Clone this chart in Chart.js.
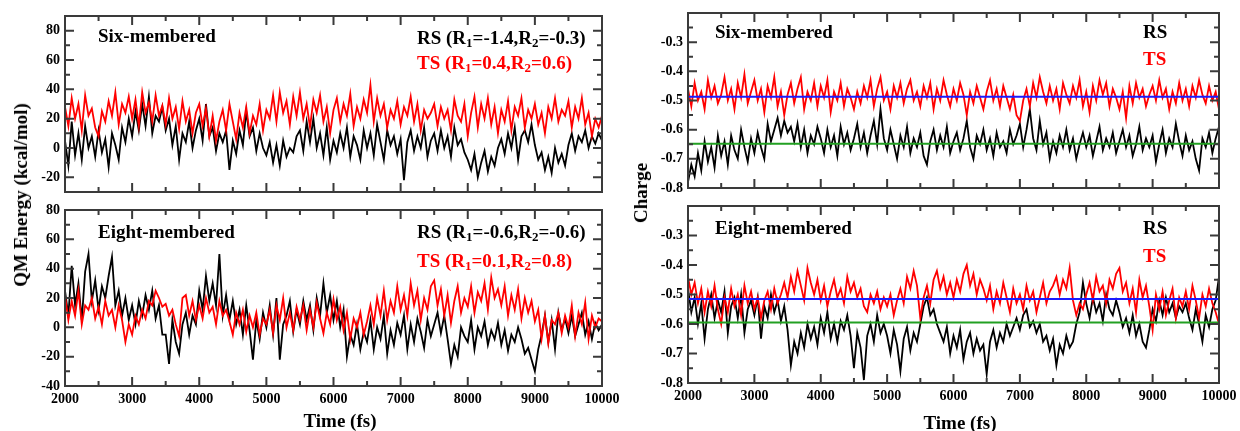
<!DOCTYPE html>
<html>
<head>
<meta charset="utf-8">
<script src="https://cdn.jsdelivr.net/npm/chart.js@4"></script>
<style>
  body { margin: 0; background: #fff; width: 1240px; height: 431px; overflow: hidden; position: relative; }
  canvas { position: absolute; }
  .title { position: absolute; font: bold 19px "Liberation Serif", serif; color: #000; white-space: nowrap; transform: translate(-50%, -50%); }
  .vert { transform: translate(-50%, -50%) rotate(-90deg); }
</style>
</head>
<body>
<canvas id="energySix" style="left:0;top:0"></canvas>
<canvas id="energyEight" style="left:0;top:200px"></canvas>
<canvas id="chargeSix" style="left:620px;top:0"></canvas>
<canvas id="chargeEight" style="left:620px;top:200px"></canvas>
<div class="title vert" style="left:21px;top:195px">QM Energy (kcal/mol)</div>
<div class="title vert" style="left:641px;top:193px">Charge</div>
<div class="title" style="left:340px;top:421px">Time (fs)</div>
<div class="title" style="left:960px;top:423px">Time (fs)</div>
<script>
// sampling of the trajectories (fs)
const timeStart = 2000, timeEnd = 10000, timeStep = 50;
const times = [];
for (let t = timeStart; t <= timeEnd; t += timeStep) times.push(t);

const timeTicks = [2000, 3000, 4000, 5000, 6000, 7000, 8000, 9000, 10000];
const energySixTicks = [-20, 0, 20, 40, 60, 80];
const energyEightTicks = [-40, -20, 0, 20, 40, 60, 80];
const chargeTicks = [-0.8, -0.7, -0.6, -0.5, -0.4, -0.3];

// QM energy, six-membered ring
const energySixTS = [
  28, 15, 34, 20, 30, 12, 36, 22, 27, 14,
  8, 25, 18, 32, 22, 38, 16, 30, 24, 35,
  20, 33, 15, 38, 24, 31, 18, 36, 22, 29,
  16, 34, 20, 28, 13, 32, 18, 26, 10, 24,
  30, 15, 27, 8, 22, 5, 18, 26, 12, 30,
  18, 6, 24, 14, 28, 10, 22, 16, 30, 12,
  26, 20, 36, 18, 38, 24, 32, 16, 35, 22,
  38, 20, 30, 14, 33, 24, 36, 18, 28, 10,
  26, 34, 18, 30, 22, 37, 15, 28, 20, 33,
  24, 43, 18, 34, 22, 30, 14, 26, 20, 32,
  16, 28, 22, 35, 18, 30, 12, 26, 20, 24,
  30, 15, 28, 20, 26, 12, 33, 22, 18, 30,
  8, 24, 35, 14, 30, 20, 34, 16, 28, 10,
  26, 18, 32, 12, 28, 22, 34, 14, 26, 20,
  30, 16, 24, 10, 28, 20, 34, 18, 26, 22,
  32, 14, 28, 20, 34, 16, 24, 8, 20, 14,
  22
];
const energySixRS = [
  5, -12, 18, -5, 10, -8, 15, 0, 8, -6,
  12, -3, 6, -13, 10, 2, -8, 14, 4, 20,
  8, 25, 12, 30, 15, 35, 10, 22, 18, 28,
  12, 20, 2, 15, -8, 10, 4, 18, 0, 12,
  20, 5, 30, 8, 14, -2, 10, 4, 12, -15,
  5, -4, 12, 2, 25, 8, 14, -2, 10, 0,
  -5, 4, -10, 2, -12, 5, -6, 0, -3, 8,
  12, -2, 18, 4, 20, 0, 10, -5, 14, -8,
  5, -3, 10, 0, 14, -6, 8, 2, -8, 12,
  0, 10, -5, 16, 4, -8, 12, 2, 8, -4,
  6, -22, 4, 12, -2, 8, 0, 14, -6, 5,
  10, -2, 12, 0, 8, -6, 14, 2, 6, -3,
  -8, -15, -4, -20, -10, -2, -16, -6, -12, 0,
  6, -4, 10, 0, 14, -8, 8, 12, 4, 16,
  2, -8, -3, -15, -6, -17, 0, -10, -4, -12,
  2, 10, -2, 8, 4, 12, 0, 8, 3, 10,
  5
];

// QM energy, eight-membered ring
const energyEightTS = [
  22, 5, 18, 8, 25, 2, 15, 12, 20, 6,
  14, 2, 18, 8, 12, 0, 15, 5, -10, 2,
  -5, 8, 2, 12, 6, 18, 15, 25, 20, 14,
  16, 8, 12, 2, -6, 20, 22, 8, 18, 5,
  15, 6, 20, 10, 14, 2, 18, 8, 12, 4,
  -5, 10, 2, 12, -3, 8, 0, 10, -5, 6,
  2, 12, -4, 15, 5, 20, 0, 10, -2, 14,
  5, 15, -2, 12, 0, 17, 6, -4, 10, 2,
  19, 5, 14, -2, 10, -8, 6, 0, 10, -5,
  4, 15, 2, 20, 8, 25, 5, 18, 10, 28,
  12, 22, 8, 30, 15, 25, 5, 20, 12, 28,
  32, 15, 26, 8, 22, 3, 18, 28, 10, 20,
  14, 28, 10, 24, 18, 30, 12, 34, 20, 26,
  15, 28, 8, 22, 12, 26, 6, 20, 10, 18,
  4, 12, -8, 8, -11, 5, 2, 10, -4, 8,
  0, 15, -6, 10, 2, 17, -8, 8, 0, 6,
  4
];
const energyEightRS = [
  25, 8, 42, 15, 30, 5, 38, 50, 18, 32,
  12, 28, 20, 35, 48, 15, 25, 8, 20, 5,
  15, 2, 18, 8, 22, 12, 25, 6, 15, -5,
  -5, -25, 5, -10, -18, 2, 10, -5, 8, 2,
  25, 12, 35, 18, 30, 15, 50, 8, 22, 5,
  18, 2, 12, -5, 15, -2, -22, 5, -8, 10,
  0, 15, -5, 20, -22, 2, 8, 18, -3, 12,
  2, 18, 5, 15, -2, 20, 8, 30, 10, 22,
  5, 18, 0, 12, -20, -5, -12, 2, -15, -3,
  -10, 5, -15, 0, -8, 8, -18, -2, -12, 3,
  -5, 8, -15, 2, -10, 6, -3, -14, 5, -6,
  2, 10, -4, 8, -8, -25, -12, -20, 0, -6,
  -10, 5, -15, 0, -6, 4, -12, -2, -8, 3,
  -12, -2, -16, -5, -10, 0, -8, -18, -14, -22,
  -30, -15, -5, 8, -10, 5, -15, 10, -2, 6,
  -4, 8, -6, 2, 10, -5, 4, -8, 3, -2,
  2
];

// charge, six-membered ring
const chargeSixTS = [
  -0.46, -0.52, -0.44, -0.50, -0.47, -0.53, -0.43, -0.49, -0.45, -0.51,
  -0.48, -0.42, -0.50, -0.46, -0.53, -0.44, -0.49, -0.41, -0.51, -0.47,
  -0.43, -0.50, -0.46, -0.54, -0.45, -0.49, -0.42, -0.52, -0.47, -0.55,
  -0.48, -0.44, -0.51, -0.46, -0.42, -0.53, -0.47, -0.50, -0.44, -0.52,
  -0.45, -0.49, -0.43, -0.54, -0.47, -0.50, -0.44, -0.52, -0.46, -0.49,
  -0.53, -0.47, -0.51, -0.45, -0.49, -0.43, -0.52, -0.46, -0.42, -0.50,
  -0.47, -0.53, -0.45, -0.49, -0.44, -0.51, -0.46, -0.43, -0.50, -0.47,
  -0.52, -0.45, -0.49, -0.44, -0.53, -0.46, -0.50, -0.43, -0.48, -0.52,
  -0.46, -0.50, -0.44, -0.48, -0.55, -0.47, -0.51, -0.45, -0.49, -0.53,
  -0.47, -0.43, -0.50, -0.46, -0.52, -0.45, -0.49, -0.53, -0.48, -0.55,
  -0.57, -0.50, -0.46, -0.52, -0.44, -0.49, -0.42, -0.47, -0.51, -0.45,
  -0.50, -0.46, -0.53, -0.44, -0.48, -0.51, -0.45, -0.49, -0.43, -0.52,
  -0.47, -0.54, -0.45, -0.50, -0.43, -0.48, -0.44, -0.52, -0.46, -0.49,
  -0.53, -0.47, -0.56, -0.45, -0.51, -0.44, -0.49, -0.46, -0.52, -0.48,
  -0.45, -0.50, -0.43, -0.49, -0.46, -0.53, -0.47, -0.51, -0.44, -0.50,
  -0.46, -0.52, -0.45, -0.49, -0.43, -0.48, -0.51, -0.45, -0.50, -0.47,
  -0.53
];
const chargeSixRS = [
  -0.78, -0.72, -0.76, -0.68, -0.74, -0.64, -0.71, -0.66, -0.73, -0.62,
  -0.69, -0.64, -0.72, -0.62, -0.67, -0.70, -0.60, -0.66, -0.71, -0.63,
  -0.68, -0.61, -0.66, -0.70, -0.58, -0.64, -0.60, -0.56, -0.62, -0.57,
  -0.61, -0.59, -0.64, -0.58, -0.66, -0.60, -0.68, -0.62, -0.65, -0.59,
  -0.63, -0.68, -0.60, -0.66, -0.62, -0.69, -0.59, -0.65, -0.61, -0.67,
  -0.63, -0.58, -0.66, -0.61, -0.68, -0.62, -0.57, -0.65, -0.53, -0.63,
  -0.67, -0.60, -0.65, -0.70, -0.62, -0.66, -0.59, -0.68, -0.63, -0.66,
  -0.61, -0.69, -0.72, -0.64, -0.60, -0.67, -0.62, -0.66, -0.59, -0.68,
  -0.64, -0.61, -0.67, -0.63, -0.57, -0.66, -0.70, -0.62, -0.65, -0.60,
  -0.67, -0.63, -0.69, -0.61, -0.66, -0.64, -0.68, -0.60, -0.65, -0.62,
  -0.58, -0.66, -0.60, -0.53, -0.63, -0.67, -0.57, -0.65, -0.61, -0.70,
  -0.64, -0.68, -0.62, -0.66, -0.60, -0.67, -0.63, -0.70, -0.65, -0.61,
  -0.66, -0.62, -0.69, -0.64, -0.59, -0.67, -0.63, -0.66, -0.61, -0.68,
  -0.64, -0.60, -0.66, -0.62, -0.69, -0.65, -0.59, -0.67, -0.63, -0.66,
  -0.62, -0.71, -0.65, -0.60, -0.68, -0.63, -0.66, -0.58, -0.64, -0.69,
  -0.62, -0.67, -0.64, -0.70, -0.74, -0.63, -0.66, -0.61, -0.68, -0.63,
  -0.59
];
const chargeSixMeanTS = -0.487;
const chargeSixMeanRS = -0.648;

// charge, eight-membered ring
const chargeEightTS = [
  -0.44, -0.50, -0.46, -0.53, -0.48, -0.56, -0.49, -0.54, -0.47, -0.55,
  -0.60, -0.51, -0.56, -0.48, -0.54, -0.50, -0.57, -0.47, -0.53, -0.49,
  -0.55, -0.51, -0.58, -0.52, -0.49, -0.55, -0.48, -0.53, -0.50, -0.46,
  -0.51, -0.44, -0.49, -0.42, -0.47, -0.52, -0.41, -0.46, -0.50, -0.45,
  -0.52, -0.47, -0.54, -0.49, -0.45, -0.51, -0.48, -0.53, -0.44, -0.49,
  -0.46, -0.51, -0.48, -0.54, -0.56, -0.50, -0.53, -0.49, -0.55, -0.51,
  -0.54, -0.50, -0.57, -0.52, -0.48, -0.53, -0.44, -0.48, -0.42, -0.47,
  -0.58, -0.51, -0.47, -0.53, -0.45, -0.42, -0.48, -0.44, -0.50, -0.46,
  -0.51, -0.45, -0.49, -0.43, -0.40, -0.47, -0.43, -0.50, -0.45, -0.48,
  -0.52, -0.47, -0.55, -0.49, -0.53, -0.46, -0.51, -0.56, -0.48, -0.53,
  -0.50, -0.55, -0.47, -0.52, -0.49, -0.56, -0.51, -0.46, -0.53, -0.49,
  -0.47, -0.44, -0.50, -0.45, -0.48, -0.41, -0.52, -0.57, -0.53, -0.55,
  -0.50, -0.46, -0.52, -0.44, -0.49, -0.47, -0.53, -0.45, -0.48, -0.43,
  -0.41, -0.49, -0.46, -0.53, -0.48, -0.56, -0.45, -0.51, -0.47, -0.54,
  -0.62, -0.50, -0.55, -0.49, -0.57, -0.52, -0.48, -0.58, -0.51, -0.54,
  -0.49, -0.55, -0.47, -0.52, -0.58, -0.50, -0.54, -0.48, -0.53, -0.56,
  -0.60
];
const chargeEightRS = [
  -0.48, -0.56, -0.51, -0.60, -0.53, -0.65, -0.55, -0.50, -0.58, -0.52,
  -0.56, -0.49, -0.63, -0.54, -0.51, -0.58, -0.50, -0.63, -0.55, -0.52,
  -0.57, -0.51, -0.65, -0.54, -0.58, -0.50, -0.56, -0.52, -0.59, -0.54,
  -0.62, -0.74, -0.66, -0.70, -0.63, -0.68, -0.60, -0.65, -0.61, -0.67,
  -0.58, -0.63, -0.56, -0.65, -0.60, -0.66, -0.59, -0.62, -0.57, -0.64,
  -0.75, -0.63, -0.68, -0.79, -0.64, -0.60, -0.66, -0.57, -0.63, -0.60,
  -0.64, -0.70, -0.62, -0.67, -0.76, -0.65, -0.61, -0.69, -0.63, -0.66,
  -0.60, -0.54, -0.51, -0.57, -0.55, -0.60, -0.63, -0.66, -0.61, -0.70,
  -0.64, -0.68, -0.62, -0.72, -0.66, -0.63, -0.70, -0.65, -0.69, -0.67,
  -0.77, -0.66, -0.62, -0.68, -0.63, -0.66, -0.60, -0.64, -0.61, -0.58,
  -0.62, -0.57, -0.55, -0.61, -0.59, -0.63, -0.60, -0.66, -0.64, -0.69,
  -0.65, -0.74, -0.67, -0.70, -0.64, -0.68, -0.66, -0.60, -0.56, -0.46,
  -0.53, -0.58, -0.51, -0.56, -0.53, -0.59, -0.50, -0.55, -0.57, -0.52,
  -0.56, -0.61, -0.58, -0.63, -0.57, -0.64, -0.60, -0.66, -0.68, -0.62,
  -0.55, -0.59, -0.52, -0.57, -0.51, -0.56, -0.53, -0.58, -0.54, -0.56,
  -0.53, -0.58, -0.62, -0.55, -0.60, -0.66, -0.57, -0.61, -0.55, -0.52,
  -0.44
];
const chargeEightMeanTS = -0.515;
const chargeEightMeanRS = -0.595;

const RED = '#ff0000', BLACK = '#000000', BLUE = '#1a1aff', GREEN = '#22a022';
const FONT = '"Liberation Serif", "Times New Roman", serif';

function points(values) {
  return values.map((v, i) => ({ x: times[i], y: v }));
}
function flat(v) {
  return [{ x: timeStart, y: v }, { x: timeEnd, y: v }];
}

// frame box with inward major/minor ticks on all four sides
const framePlugin = {
  id: 'frame',
  afterDatasetsDraw(chart, args, o) {
    const { ctx, chartArea: a, scales } = chart;
    ctx.save();
    ctx.strokeStyle = '#3a3a3a';
    ctx.lineWidth = 2;
    ctx.beginPath();
    const walk = (scale, minor, major, fn) => {
      const n = Math.round((scale.max - scale.min) / minor);
      for (let i = 0; i <= n; i++) {
        const v = scale.min + i * minor;
        const r = v / major;
        const isMajor = Math.abs(r - Math.round(r)) < 1e-6;
        fn(scale.getPixelForValue(v), isMajor ? 9 : 5);
      }
    };
    walk(scales.x, o.xMinor, o.xMajor, (p, len) => {
      ctx.moveTo(p, a.bottom); ctx.lineTo(p, a.bottom - len);
      ctx.moveTo(p, a.top); ctx.lineTo(p, a.top + len);
    });
    walk(scales.y, o.yMinor, o.yMajor, (p, len) => {
      ctx.moveTo(a.left, p); ctx.lineTo(a.left + len, p);
      ctx.moveTo(a.right, p); ctx.lineTo(a.right - len, p);
    });
    ctx.stroke();
    ctx.strokeRect(a.left, a.top, a.right - a.left, a.bottom - a.top);
    ctx.restore();
  }
};

// panel labels with subscripts
const labelPlugin = {
  id: 'panelLabels',
  afterDraw(chart, args, o) {
    const { ctx, chartArea: a } = chart;
    ctx.save();
    ctx.textBaseline = 'middle';
    o.items.forEach(item => {
      let x = a.left + item.dx;
      const y = a.top + item.dy;
      ctx.fillStyle = item.color;
      item.parts.forEach(part => {
        const sub = typeof part !== 'string';
        const text = sub ? part.sub : part;
        ctx.font = sub ? 'bold 13px ' + FONT : 'bold 19px ' + FONT;
        ctx.fillText(text, x, sub ? y + 5 : y);
        x += ctx.measureText(text).width;
      });
    });
    ctx.restore();
  }
};

function makePanel(id, cfg) {
  const canvas = document.getElementById(id);
  canvas.width = 620;
  canvas.height = cfg.height;
  canvas.style.width = '620px';
  canvas.style.height = cfg.height + 'px';
  const tickFont = { family: FONT, size: 14, weight: 'bold' };
  return new Chart(canvas, {
    type: 'line',
    data: { datasets: cfg.datasets },
    options: {
      responsive: false,
      animation: false,
      events: [],
      layout: { padding: cfg.padding },
      elements: { point: { radius: 0 }, line: { tension: 0 } },
      plugins: {
        legend: { display: false },
        tooltip: { enabled: false },
        frame: cfg.frame,
        panelLabels: { items: cfg.labels }
      },
      scales: {
        x: {
          type: 'linear',
          min: timeStart,
          max: timeEnd,
          display: cfg.showX,
          grid: { display: false, drawTicks: false },
          border: { display: false },
          ticks: { color: '#000', font: tickFont, padding: 5, maxRotation: 0, callback: v => String(v) },
          afterBuildTicks: s => { s.ticks = timeTicks.map(v => ({ value: v })); },
          afterFit: s => { s.height = cfg.xHeight; s.paddingLeft = 0; s.paddingRight = 0; }
        },
        y: {
          type: 'linear',
          min: cfg.yMin,
          max: cfg.yMax,
          grid: { display: false, drawTicks: false },
          border: { display: false },
          ticks: { color: '#000', font: tickFont, padding: 5, callback: cfg.yFormat },
          afterBuildTicks: s => { s.ticks = cfg.yTicks.map(v => ({ value: v })); },
          afterFit: s => { s.width = cfg.yWidth; s.paddingTop = 0; s.paddingBottom = 0; }
        }
      }
    },
    plugins: [framePlugin, labelPlugin]
  });
}

function series(values, color) {
  return { data: points(values), borderColor: color, borderWidth: 1.8, fill: false };
}
function meanLine(v, color) {
  return { data: flat(v), borderColor: color, borderWidth: 2, fill: false };
}

const energyFrame = { xMinor: 500, xMajor: 1000, yMinor: 10, yMajor: 20 };
const chargeFrame = { xMinor: 500, xMajor: 1000, yMinor: 0.05, yMajor: 0.1 };
const energyFmt = v => String(v);
const chargeFmt = v => v.toFixed(1);

makePanel('energySix', {
  height: 200, padding: { left: 0, right: 18, top: 16, bottom: 8 },
  yWidth: 65, xHeight: 0, showX: false,
  yMin: -30, yMax: 90, yTicks: energySixTicks, yFormat: energyFmt, frame: energyFrame,
  datasets: [series(energySixTS, RED), series(energySixRS, BLACK)],
  labels: [
    { dx: 33, dy: 21, color: BLACK, parts: ['Six-membered'] },
    { dx: 352, dy: 23, color: BLACK, parts: ['RS (R', { sub: '1' }, '=-1.4,R', { sub: '2' }, '=-0.3)'] },
    { dx: 352, dy: 48, color: RED, parts: ['TS (R', { sub: '1' }, '=0.4,R', { sub: '2' }, '=0.6)'] }
  ]
});

makePanel('energyEight', {
  height: 231, padding: { left: 0, right: 18, top: 10, bottom: 0 },
  yWidth: 65, xHeight: 45, showX: true,
  yMin: -40, yMax: 80, yTicks: energyEightTicks, yFormat: energyFmt, frame: energyFrame,
  datasets: [series(energyEightTS, RED), series(energyEightRS, BLACK)],
  labels: [
    { dx: 33, dy: 23, color: BLACK, parts: ['Eight-membered'] },
    { dx: 352, dy: 23, color: BLACK, parts: ['RS (R', { sub: '1' }, '=-0.6,R', { sub: '2' }, '=-0.6)'] },
    { dx: 352, dy: 52, color: RED, parts: ['TS (R', { sub: '1' }, '=0.1,R', { sub: '2' }, '=0.8)'] }
  ]
});

makePanel('chargeSix', {
  height: 200, padding: { left: 0, right: 21, top: 13, bottom: 12 },
  yWidth: 68, xHeight: 0, showX: false,
  yMin: -0.8, yMax: -0.2, yTicks: chargeTicks, yFormat: chargeFmt, frame: chargeFrame,
  datasets: [meanLine(chargeSixMeanTS, BLUE), meanLine(chargeSixMeanRS, GREEN),
             series(chargeSixTS, RED), series(chargeSixRS, BLACK)],
  labels: [
    { dx: 27, dy: 20, color: BLACK, parts: ['Six-membered'] },
    { dx: 455, dy: 20, color: BLACK, parts: ['RS'] },
    { dx: 455, dy: 47, color: RED, parts: ['TS'] }
  ]
});

makePanel('chargeEight', {
  height: 231, padding: { left: 0, right: 21, top: 6, bottom: 0 },
  yWidth: 68, xHeight: 48, showX: true,
  yMin: -0.8, yMax: -0.2, yTicks: chargeTicks, yFormat: chargeFmt, frame: chargeFrame,
  datasets: [meanLine(chargeEightMeanTS, BLUE), meanLine(chargeEightMeanRS, GREEN),
             series(chargeEightTS, RED), series(chargeEightRS, BLACK)],
  labels: [
    { dx: 27, dy: 23, color: BLACK, parts: ['Eight-membered'] },
    { dx: 455, dy: 23, color: BLACK, parts: ['RS'] },
    { dx: 455, dy: 51, color: RED, parts: ['TS'] }
  ]
});
</script>
</body>
</html>
